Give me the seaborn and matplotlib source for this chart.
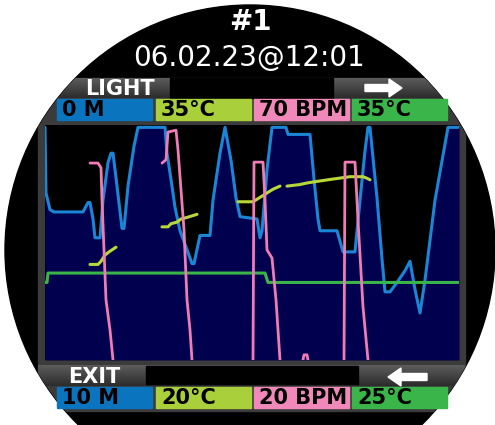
import numpy as np
import pandas as pd
import matplotlib
matplotlib.use("Agg")
import matplotlib.pyplot as plt
import seaborn as sns
from matplotlib.patches import Circle, Rectangle, FancyArrow
from matplotlib.colors import LinearSegmentedColormap

sns.set_style("white")
plt.rcParams["font.family"] = ["DejaVu Sans"]

#================================================================
# dive log values (time in samples)
#================================================================
depth_time = [0, 1, 5, 9, 38, 43, 45, 48, 50, 55, 58, 63, 66, 68, 72, 77, 79, 83, 89, 93,
              120, 122, 127, 130, 135, 142, 147, 149, 152, 155, 165, 168, 175, 180,
              186, 191, 195, 212, 215, 217, 222, 227, 241, 243, 265, 269, 273, 275,
              292, 298, 310, 315, 320, 323, 325, 332, 337, 340, 345, 352, 360, 365,
              370, 375, 380, 390, 403, 414]
depth_m = [0.1, 2.9, 3.6, 3.7, 3.7, 3.3, 3.3, 4.0, 4.8, 4.8, 3.2, 1.6, 1.2, 1.2, 2.6, 4.4, 4.4, 2.6, 0.9, 0.1,
           0.1, 1.2, 2.6, 3.5, 4.5, 5.3, 5.9, 5.9, 5.3, 4.7, 4.7, 3.2, 1.2, 0.1,
           1.5, 3.1, 3.9, 4.0, 4.8, 4.5, 1.9, 0.1, 0.1, 0.4, 0.4, 2.3, 4.0, 4.5,
           4.5, 5.4, 5.4, 3.2, 1.1, 0.1, 0.1, 3.1, 5.7, 7.1, 7.1, 6.7, 6.2, 5.8,
           7.0, 8.0, 6.6, 3.2, 0.1, 0.1]

# water temperature (lime), broken into logged segments
temp_seg = [1] * 6 + [2] * 8 + [3] * 7 + [4] * 9
temp_time = [45, 53, 56, 60, 64, 71,
             117, 123, 126, 132, 136, 142, 147, 152,
             193, 208, 213, 218, 223, 228, 235,
             242, 255, 262, 272, 288, 305, 318, 322, 325]
temp_c = [26.1, 26.1, 26.3, 26.7, 26.9, 27.2,
          28.5, 28.5, 28.7, 28.8, 29.0, 29.1, 29.2, 29.3,
          30.1, 30.1, 30.3, 30.5, 30.7, 30.9, 31.1,
          31.1, 31.2, 31.3, 31.4, 31.55, 31.7, 31.7, 31.6, 31.5]

# heart rate (pink)
hr_seg = [1] * 8 + [2] * 10 + [3] * 8 + [4] * 4 + [5] * 6
hr_time = [45, 53, 56, 57, 59, 61, 65, 68,
           117, 121, 123, 131, 133, 136, 139, 142, 145, 147,
           208, 209, 218, 220, 222, 227, 231, 235,
           258, 259, 262, 263,
           299, 300, 310, 313, 318, 323]
hr_bpm = [61.9, 61.9, 60.9, 54.0, 43.4, 32.8, 26.4, 20,
          61.9, 62.6, 68.5, 68.9, 64.7, 56.2, 47.7, 32.8, 26.4, 20,
          20, 62.1, 62.1, 54.0, 43.4, 41.7, 32.8, 20,
          20, 21.1, 21.1, 20,
          20, 62.1, 62.1, 49.8, 31.3, 20]

# second temperature sensor (green)
temp2_time = [0, 2, 3, 220, 223, 414]
temp2_c = [28.3, 28.3, 28.7, 28.7, 28.3, 28.3]

# scale labels (top / bottom)
top_labels = ["0 M", "35°C", "70 BPM", "35°C"]
bottom_labels = ["10 M", "20°C", "20 BPM", "25°C"]
box_colors = ["#0a74be", "#a9cf3a", "#f089ba", "#3ab54a"]

df_temp = pd.DataFrame({"t": temp_time, "v": temp_c, "seg": temp_seg})
df_hr = pd.DataFrame({"t": hr_time, "v": hr_bpm, "seg": hr_seg})
df_temp2 = pd.DataFrame({"t": temp2_time, "v": temp2_c})
df_depth = pd.DataFrame({"t": depth_time, "v": depth_m})

fig = plt.figure(figsize=(4.95, 4.25), dpi=100)
fig.patch.set_facecolor("white")

# screen background, pixel coordinates
bg = fig.add_axes([0, 0, 1, 1])
bg.set_xlim(0, 495)
bg.set_ylim(425, 0)
bg.axis("off")

face = Circle((250, 250), 245, color="black")
bg.add_patch(face)

panel = Rectangle((38, 78), 427, 333, color="#3b3b3b")
bg.add_patch(panel)
panel.set_clip_path(face)

grad_cmap = LinearSegmentedColormap.from_list("tab", ["#5c5c5c", "#2c2c2c"])
grad = np.linspace(0, 1, 50).reshape(-1, 1)
for y0, y1 in [(78, 98), (365, 386)]:
    im = bg.imshow(grad, extent=(38, 465, y1, y0), cmap=grad_cmap, aspect="auto", zorder=2)
    im.set_clip_path(face)
bg.set_xlim(0, 495)
bg.set_ylim(425, 0)

bg.add_patch(Rectangle((170, 78), 163, 20, color="black", zorder=3))
bg.add_patch(Rectangle((146, 366), 212, 18, color="black", zorder=3))

bg.add_patch(FancyArrow(365, 88, 37, 0, width=7, head_width=18, head_length=13,
                        length_includes_head=True, color="white", zorder=4))
bg.add_patch(FancyArrow(427, 377, -39, 0, width=7, head_width=18, head_length=13,
                        length_includes_head=True, color="white", zorder=4))

box_x = [57, 156, 254, 352]
for i in range(4):
    for y0, labels in [(99, top_labels), (387, bottom_labels)]:
        bg.add_patch(Rectangle((box_x[i], y0), 95, 21, color=box_colors[i], zorder=3))
        bg.text(box_x[i] + 5, y0 + 11, labels[i], color="black", fontsize=15,
                fontweight="bold", va="center", ha="left", zorder=5)

bg.text(250, 22, "#1", color="white", fontsize=20, fontweight="bold", ha="center", va="center")
bg.text(249, 58, "06.02.23@12:01", color="white", fontsize=20, ha="center", va="center")
bg.text(85, 89, "LIGHT", color="white", fontsize=15, fontweight="bold", ha="left", va="center", zorder=5)
bg.text(68, 377, "EXIT", color="white", fontsize=15, fontweight="bold", ha="left", va="center", zorder=5)

# log plot area
ax = fig.add_axes([45 / 495, 1 - 360 / 425, 414 / 495, 235 / 425])
ax.set_facecolor("black")
ax.fill_between(depth_time, depth_m, 10, color="#00004e", lw=0)
sns.lineplot(data=df_depth, x="t", y="v", sort=False, color="#1c86d6", lw=2.2, ax=ax)
ax.set_xlim(0, 414)
ax.set_ylim(10, 0)
ax.set_xticks([])
ax.set_yticks([])
ax.set_xlabel("")
ax.set_ylabel("")
for s in ax.spines.values():
    s.set_visible(False)

ax_g = ax.twinx()
sns.lineplot(data=df_temp2, x="t", y="v", sort=False, color="#3ab54a", lw=2.2, ax=ax_g)
ax_g.set_ylim(25, 35)

ax_t = ax.twinx()
sns.lineplot(data=df_temp, x="t", y="v", units="seg", estimator=None, sort=False,
             color="#b9d838", lw=2.2, ax=ax_t)
ax_t.set_ylim(20, 35)

ax_h = ax.twinx()
sns.lineplot(data=df_hr, x="t", y="v", units="seg", estimator=None, sort=False,
             color="#f07cb6", lw=2.0, ax=ax_h)
ax_h.set_ylim(20, 70)

for a in [ax_g, ax_t, ax_h]:
    a.set_xlim(0, 414)
    a.axis("off")

fig.savefig("out.png", dpi=100, facecolor="white")
